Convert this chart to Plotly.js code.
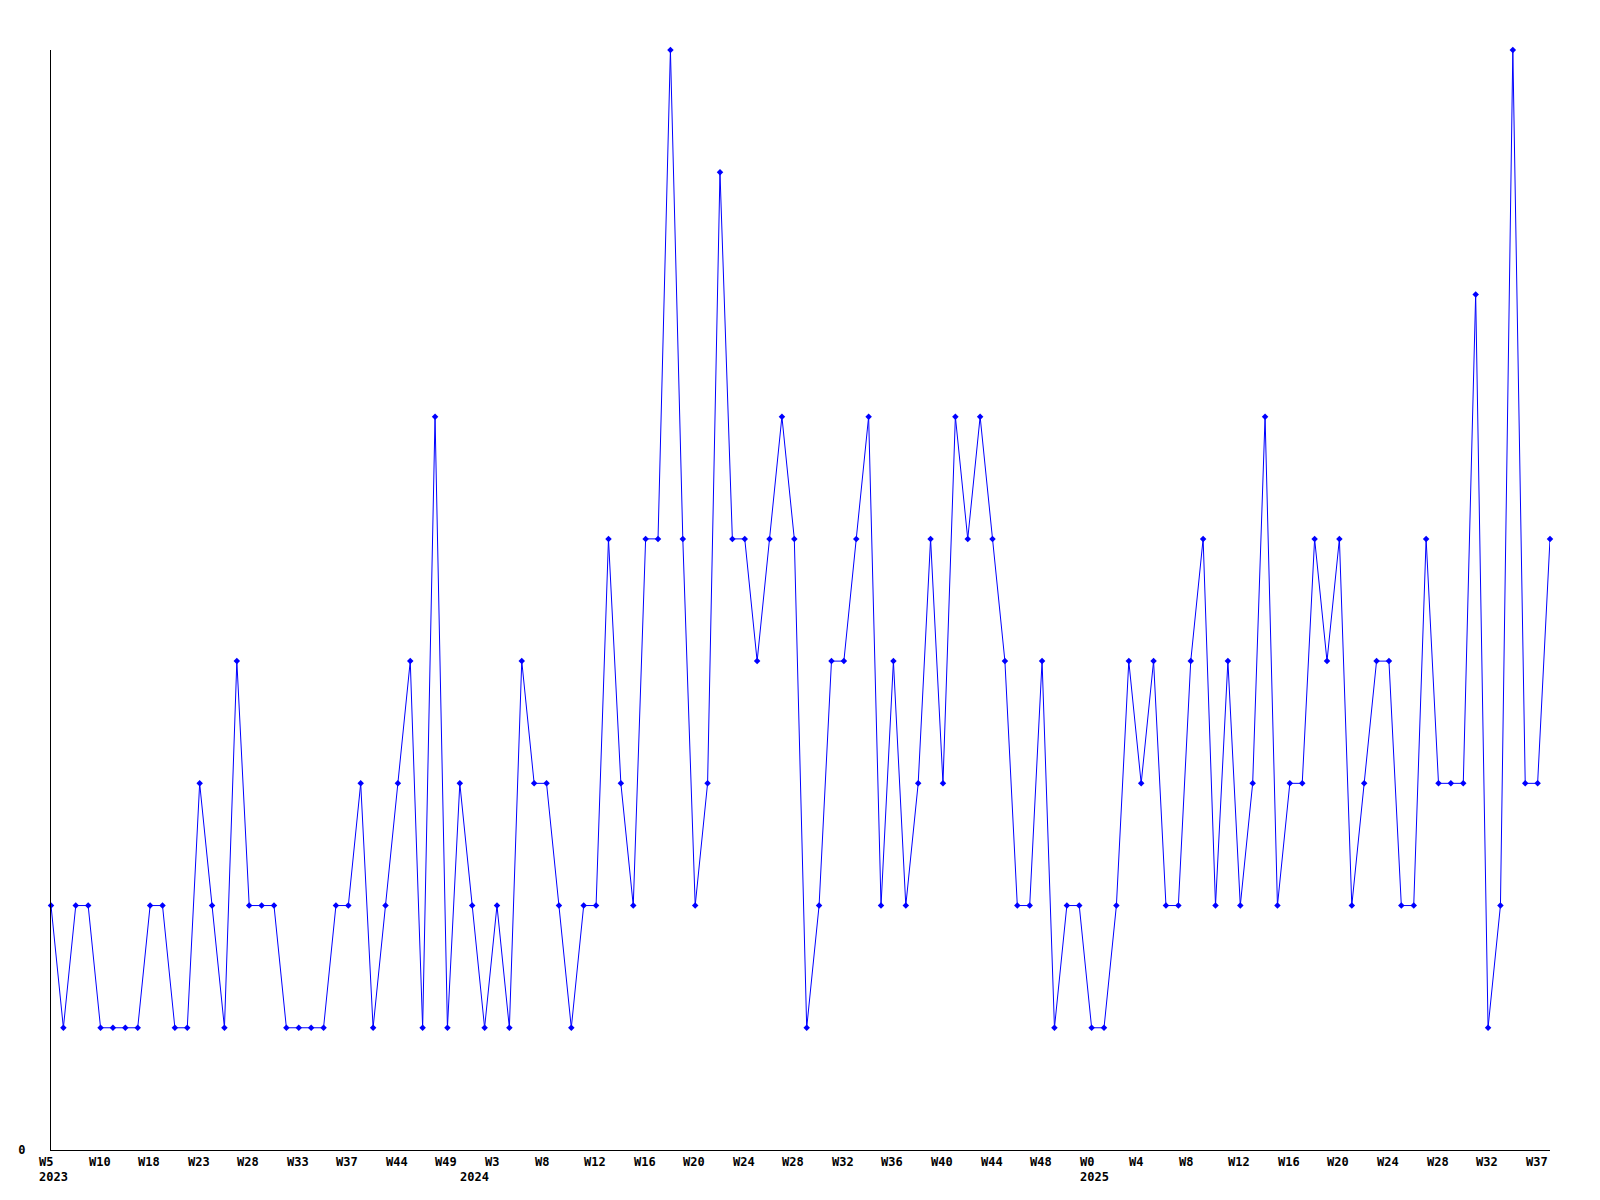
<!DOCTYPE html>
<html>
<head>
<meta charset="utf-8">
<script src="https://cdn.plot.ly/plotly-3.0.1.min.js"></script>
<style>html,body{margin:0;padding:0;background:#fff;}#chart{width:1600px;height:1200px;}</style>
</head>
<body>
<div id="chart"></div>
<script>
// Weekly counts, one point per week with data (Week 5, 2023 onward)
const values = [
  2,1,2,2,1,1,1,1,2,2,1,1,3,2,1,4,2,2,2,1,
  1,1,1,2,2,3,1,2,3,4,1,6,1,3,2,1,2,1,4,3,
  3,2,1,2,2,5,3,2,5,5,9,5,2,3,8,5,5,4,5,6,
  5,1,2,4,4,5,6,2,4,2,3,5,3,6,5,6,5,4,2,2,
  4,1,2,2,1,1,2,4,3,4,2,2,4,5,2,4,2,3,6,2,
  3,3,5,4,5,2,3,4,4,2,2,5,3,3,3,7,1,2,9,3,
  3,5
];
// Tick labels, one every 4th point
const tickLabels = ['W5','W10','W18','W23','W28','W33','W37','W44','W49','W3','W8',
  'W12','W16','W20','W24','W28','W32','W36','W40','W44','W48','W0',
  'W4','W8','W12','W16','W20','W24','W28','W32','W37'];
const tickStep = 4;
// Year labels and the point index of the first week of each year
const yearLabels = ['2023','2024','2025'];
const yearStartIndex = [0, 34, 84];

const xs = values.map((_, i) => i);
const tickvals = tickLabels.map((_, i) => i * tickStep);

const font = {family: '"DejaVu Sans Mono", "Liberation Mono", monospace', size: 12, color: '#000', weight: 'bold'};

const trace = {
  x: xs, y: values, type: 'scatter', mode: 'lines+markers',
  line: {color: '#0000ff', width: 1},
  marker: {color: '#0000ff', symbol: 'diamond', size: 5},
  cliponaxis: false, hoverinfo: 'skip'
};

// x labels are left-aligned just before their point, as in the source chart
const tickAnnotations = tickLabels.map((t, k) => ({
  text: t, x: tickvals[k], xref: 'x', y: 0, yref: 'paper',
  xanchor: 'left', yanchor: 'top', xshift: -14, yshift: -3,
  showarrow: false, font: font
}));
const yearAnnotations = yearLabels.map((t, k) => ({
  text: t, x: yearStartIndex[k], xref: 'x', y: 0, yref: 'paper',
  xanchor: 'left', yanchor: 'top', xshift: -14, yshift: -18,
  showarrow: false, font: font
}));

const layout = {
  width: 1600, height: 1200,
  margin: {l: 51, r: 50, t: 50, b: 50},
  paper_bgcolor: '#fff', plot_bgcolor: '#fff',
  showlegend: false,
  font: font,
  xaxis: {
    range: [0, values.length - 1], tickvals: tickvals, showticklabels: false,
    showgrid: false, zeroline: false, showline: true, linecolor: '#000', linewidth: 1,
    ticks: ''
  },
  yaxis: {
    range: [0, 9], tickvals: [0], ticktext: ['0'],
    showgrid: false, zeroline: false, showline: true, linecolor: '#000', linewidth: 1,
    ticks: '', tickfont: font, ticklabelstandoff: 22
  },
  annotations: tickAnnotations.concat(yearAnnotations)
};

Plotly.newPlot('chart', [trace], layout, {displayModeBar: false, staticPlot: true});
</script>
</body>
</html>
